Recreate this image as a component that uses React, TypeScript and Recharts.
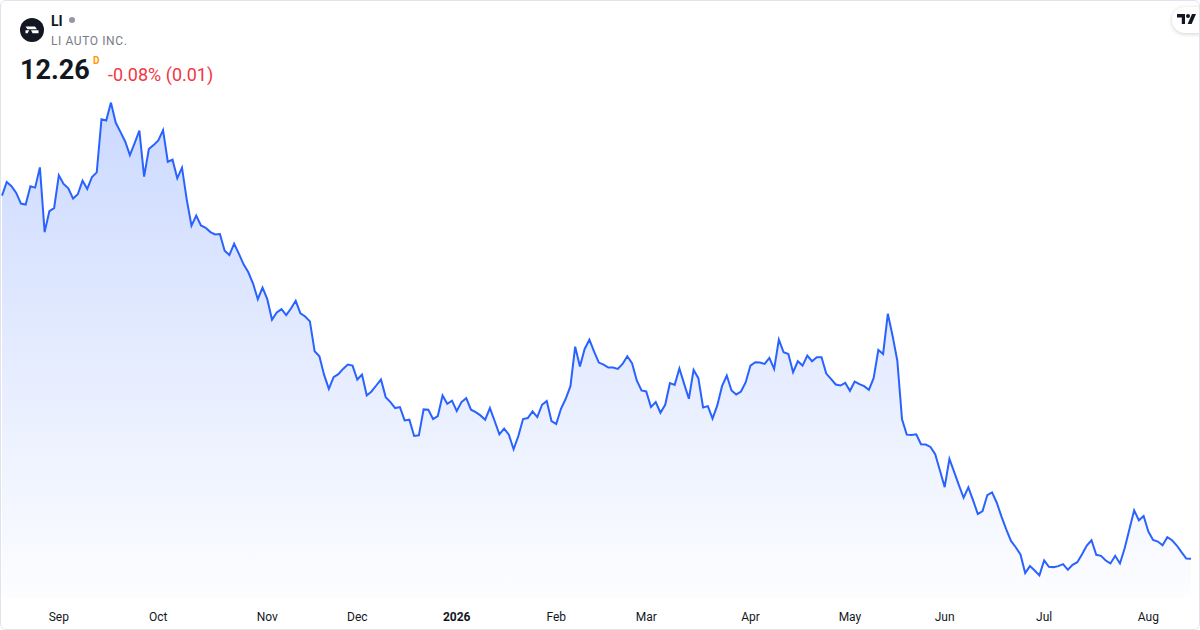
import { Area, AreaChart, XAxis, YAxis } from "recharts";

// LI daily closes (first to last session)
const closes = [
  23.2, 23.61, 23.48, 23.28, 22.96, 22.93, 23.48, 23.44, 24.05, 22.1,
  22.73, 22.82, 23.81, 23.55, 23.42, 23.11, 23.24, 23.65, 23.4, 23.76,
  23.9, 25.5, 25.46, 26.0, 25.4, 25.12, 24.83, 24.42, 24.78, 25.16,
  23.77, 24.6, 24.72, 24.86, 25.17, 24.22, 24.28, 23.72, 24.04, 23.08,
  22.29, 22.6, 22.3, 22.23, 22.1, 22.03, 22.04, 21.54, 21.41, 21.75,
  21.45, 21.13, 20.89, 20.55, 20.08, 20.43, 20.08, 19.46, 19.68, 19.78,
  19.6, 19.8, 20.03, 19.65, 19.56, 19.41, 18.51, 18.36, 17.8, 17.38,
  17.73, 17.82, 17.98, 18.11, 18.08, 17.66, 17.81, 17.18, 17.3, 17.48,
  17.66, 17.13, 16.98, 16.8, 16.83, 16.43, 16.45, 15.96, 15.98, 16.76,
  16.75, 16.47, 16.56, 17.18, 16.93, 17.02, 16.71, 16.98, 17.1, 16.75,
  16.68, 16.58, 16.45, 16.8, 16.41, 16.01, 16.18, 16.0, 15.56, 15.96,
  16.47, 16.5, 16.7, 16.53, 16.9, 17.01, 16.41, 16.32, 16.78, 17.08,
  17.46, 18.65, 18.05, 18.58, 18.86, 18.5, 18.17, 18.11, 18.02, 18.02,
  17.98, 18.13, 18.36, 18.15, 17.63, 17.33, 17.3, 16.83, 16.98, 16.66,
  16.9, 17.55, 17.5, 17.99, 17.53, 17.08, 17.95, 17.7, 16.82, 16.86,
  16.48, 16.88, 17.46, 17.78, 17.33, 17.21, 17.3, 17.58, 18.08, 18.18,
  18.17, 18.13, 18.31, 17.98, 18.86, 18.48, 18.43, 17.88, 18.21, 18.08,
  18.38, 18.21, 18.33, 18.33, 17.84, 17.68, 17.51, 17.48, 17.56, 17.32,
  17.6, 17.52, 17.46, 17.35, 17.7, 18.55, 18.43, 19.64, 18.98, 18.23,
  16.46, 16.0, 15.99, 16.01, 15.71, 15.7, 15.63, 15.41, 14.92, 14.42,
  15.27, 14.88, 14.48, 14.1, 14.41, 14.02, 13.61, 13.7, 14.18, 14.26,
  13.95, 13.53, 13.15, 12.8, 12.61, 12.39, 11.83, 12.04, 11.91, 11.76,
  12.21, 12.02, 12.01, 12.04, 12.1, 11.93, 12.08, 12.16, 12.4, 12.66,
  12.82, 12.38, 12.35, 12.21, 12.12, 12.35, 12.12, 12.58, 13.15, 13.72,
  13.42, 13.55, 13.08, 12.83, 12.78, 12.67, 12.91, 12.82, 12.66, 12.46,
  12.27, 12.26,
];

// first session of each month on the time axis
const tickLabels = ["Sep", "Oct", "Nov", "Dec", "2026", "Feb", "Mar", "Apr", "May", "Jun", "Jul", "Aug"];
const tickIndex = [12, 33, 56, 75, 96, 117, 136, 158, 179, 199, 220, 242];

const data = closes.map((close, i) => ({ i, close }));

const FONT = '-apple-system, BlinkMacSystemFont, "Trebuchet MS", Roboto, "Open Sans", sans-serif';

function MonthTick(props: any) {
  const { x, y, payload } = props;
  const label = tickLabels[tickIndex.indexOf(payload.value)] ?? "";
  return (
    <text
      x={x}
      y={y}
      dy="0.71em"
      textAnchor="middle"
      fontSize={12}
      fontFamily={FONT}
      fill="#131722"
      fontWeight={label === "2026" ? 700 : 400}
    >
      {label}
    </text>
  );
}

export default function App() {
  return (
    <div style={{ position: "relative", width: 1200, height: 630, background: "#fff", fontFamily: FONT }}>
      <style>{`body{margin:0}`}</style>
      <AreaChart width={1200} height={630} data={data} margin={{ top: 90, right: 9, left: 2, bottom: 2 }}>
        <defs>
          <linearGradient id="liFill" x1="0" y1="0" x2="0" y2="1">
            <stop offset="0%" stopColor="#2962ff" stopOpacity={0.4} />
            <stop offset="100%" stopColor="#2962ff" stopOpacity={0.02} />
          </linearGradient>
        </defs>
        <XAxis
          dataKey="i"
          type="number"
          domain={[0, closes.length - 1]}
          ticks={tickIndex}
          interval={0}
          axisLine={false}
          tickLine={false}
          tickMargin={8}
          height={30}
          tick={<MonthTick />}
        />
        <YAxis hide domain={[11.08, 26.38]} allowDataOverflow />
        <Area
          type="linear"
          dataKey="close"
          stroke="#2962ff"
          strokeWidth={2}
          fill="url(#liFill)"
          dot={false}
          activeDot={false}
          isAnimationActive={false}
        />
      </AreaChart>

      {/* symbol header */}
      <svg width={24} height={24} style={{ position: "absolute", left: 19.5, top: 18 }}>
        <circle cx={12} cy={12} r={12} fill="#131722" />
        <path d="M5.5 8.5 H15 L17 11.3 H7.5 Z" fill="#fff" />
        <path d="M5.5 12.3 H9.2 L7.6 15.3 H5.5 Z" fill="#fff" />
        <path d="M11 12.3 H18.5 V15.3 H12.6 Z" fill="#fff" />
      </svg>
      <div style={{ position: "absolute", left: 51, top: 13, fontSize: 14, fontWeight: 700, color: "#131722" }}>
        LI
        <span
          style={{
            display: "inline-block",
            width: 6,
            height: 6,
            borderRadius: 3,
            background: "#9598a1",
            marginLeft: 6,
            verticalAlign: "middle",
            position: "relative",
            top: -2,
          }}
        />
      </div>
      <div style={{ position: "absolute", left: 51, top: 34, fontSize: 12, color: "#787b86", letterSpacing: 0.6 }}>
        LI AUTO INC.
      </div>
      <div style={{ position: "absolute", left: 20, top: 54, fontSize: 27, fontWeight: 700, color: "#131722" }}>
        12.26
      </div>
      <div style={{ position: "absolute", left: 93, top: 55, fontSize: 10, fontWeight: 700, color: "#ff9800" }}>D</div>
      <div style={{ position: "absolute", left: 108, top: 64, fontSize: 18, color: "#f23645" }}>-0.08% (0.01)</div>

      {/* TV badge */}
      <div
        style={{
          position: "absolute",
          left: 1172,
          top: 7,
          width: 40,
          height: 26,
          borderRadius: 13,
          background: "#fff",
          boxShadow: "0 1px 4px rgba(0,0,0,0.18)",
        }}
      >
        <svg width={20} height={12} style={{ position: "absolute", left: 5, top: 7 }}>
          <path d="M0 0 h8 v10 h-3.2 v-6.6 h-4.8 z" fill="#131722" />
          <circle cx={11} cy={2} r={2} fill="#131722" />
          <path d="M15 0 h4 l-4.4 10 h-4 z" fill="#131722" />
        </svg>
      </div>

      <div
        style={{
          position: "absolute",
          inset: 0,
          border: "1px solid #e0e3eb",
          borderRadius: 6,
          pointerEvents: "none",
        }}
      />
    </div>
  );
}
